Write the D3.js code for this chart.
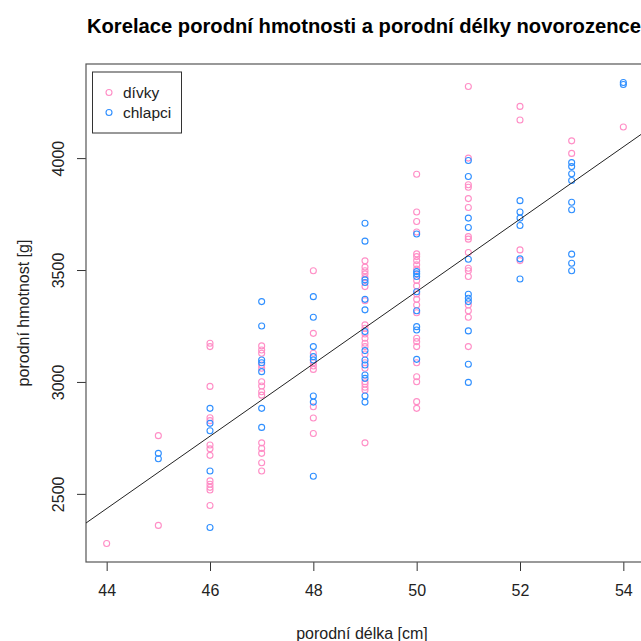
<!DOCTYPE html>
<html>
<head>
<meta charset="utf-8">
<script src="https://cdn.jsdelivr.net/npm/d3@7/dist/d3.min.js"></script>
<style>
  html, body { margin: 0; padding: 0; background: #fff; }
  svg { display: block; font-family: "Liberation Sans", Arial, sans-serif; }
</style>
</head>
<body>
<script>
// Porodní délka [cm] a hmotnost [g] novorozenců – dívky
const divkyDelka = [
  44,
  45, 45,
  46, 46, 46, 46, 46, 46, 46, 46, 46, 46, 46, 46, 46,
  47, 47, 47, 47, 47, 47, 47, 47, 47, 47, 47, 47, 47, 47,
  48, 48, 48, 48, 48, 48, 48, 48, 48,
  49, 49, 49, 49, 49, 49, 49, 49, 49, 49, 49, 49, 49, 49, 49, 49, 49, 49, 49, 49, 49,
  50, 50, 50, 50, 50, 50, 50, 50, 50, 50, 50, 50, 50, 50, 50, 50, 50, 50, 50, 50, 50, 50, 50,
  51, 51, 51, 51, 51, 51, 51, 51, 51, 51, 51, 51, 51, 51, 51, 51,
  52, 52, 52, 52,
  53, 53,
  54
];
const divkyHmotnost = [
  2278,
  2760, 2359,
  3173, 3158, 2980, 2840, 2827, 2718, 2701, 2672, 2558, 2543, 2529, 2517, 2448,
  3161, 3143, 3128, 3076, 3061, 3001, 2982, 2956, 2941, 2728, 2703, 2681, 2639, 2602,
  3497, 3217, 3128, 3086, 3071, 3056, 2889, 2839, 2770,
  3541, 3513, 3497, 3483, 3466, 3426, 3363, 3255, 3240, 3214, 3195, 3173, 3158, 3125, 3086, 3061, 3001, 2991, 2976, 2964, 2728,
  3928, 3759, 3717, 3670, 3572, 3560, 3542, 3523, 3504, 3453, 3429, 3393, 3369, 3344, 3309, 3195, 3180, 3158, 3086, 3023, 3001, 2912, 2882,
  4320, 4000, 3881, 3870, 3819, 3779, 3649, 3638, 3578, 3508, 3497, 3471, 3344, 3318, 3289, 3158,
  4231, 4170, 3590, 3542,
  4077, 4021,
  4139
];

// Porodní délka [cm] a hmotnost [g] novorozenců – chlapci
const chlapciDelka = [
  45, 45,
  46, 46, 46, 46, 46,
  47, 47, 47, 47, 47, 47, 47,
  48, 48, 48, 48, 48, 48, 48, 48,
  49, 49, 49, 49, 49, 49, 49, 49, 49, 49, 49, 49, 49, 49,
  50, 50, 50, 50, 50, 50, 50, 50, 50,
  51, 51, 51, 51, 51, 51, 51, 51, 51, 51, 51,
  52, 52, 52, 52, 52, 52,
  53, 53, 53, 53, 53, 53, 53, 53, 53,
  54, 54
];
const chlapciHmotnost = [
  2681, 2657,
  2882, 2815, 2782, 2602, 2350,
  3359, 3250, 3098, 3086, 3046, 2882, 2797,
  3381, 3289, 3158, 3113, 3098, 2937, 2910, 2579,
  3709, 3629, 3456, 3444, 3369, 3322, 3225, 3140, 3098, 3076, 3031, 3016, 2937, 2910,
  3661, 3493, 3483, 3471, 3403, 3318, 3247, 3232, 3101,
  3989, 3918, 3732, 3690, 3548, 3392, 3374, 3359, 3228, 3079, 2998,
  3810, 3759, 3732, 3699, 3550, 3460,
  3980, 3962, 3930, 3900, 3803, 3769, 3571, 3530, 3497,
  4338, 4329
];

// Regresní přímka hmotnost = a + b * délka
const primkaIntercept = -4676;
const primkaSlope = 161.6;

const xTicks = [44, 46, 48, 50, 52, 54];
const yTicks = [2500, 3000, 3500, 4000];
const legendLabels = ["dívky", "chlapci"];
const colors = { divky: "#ff8ec6", chlapci: "#2f8fff" };

const W = 641, H = 641;
const margin = { left: 86, top: 64 };
const plotW = 558, plotH = 498;

const svg = d3.select("body").append("svg")
  .attr("width", W).attr("height", H);

// osy s 4% rozšířením rozsahu dat
function padded(arr) {
  const [lo, hi] = d3.extent(arr);
  const p = (hi - lo) * 0.04;
  return [lo - p, hi + p];
}
const allX = divkyDelka.concat(chlapciDelka);
const allY = divkyHmotnost.concat(chlapciHmotnost);

const x = d3.scaleLinear().domain(padded(allX)).range([margin.left, margin.left + plotW]);
const y = d3.scaleLinear().domain(padded(allY)).range([margin.top + plotH, margin.top]);

svg.append("defs").append("clipPath").attr("id", "plotClip")
  .append("rect")
  .attr("x", margin.left).attr("y", margin.top)
  .attr("width", plotW).attr("height", plotH);

// Osa x
const xAxis = svg.append("g")
  .attr("transform", `translate(0,${margin.top + plotH})`)
  .call(d3.axisBottom(x).tickValues(xTicks).tickSize(9).tickPadding(14).tickFormat(d3.format("d")));
xAxis.select(".domain").remove();
xAxis.selectAll(".tick line").attr("stroke", "#333");
xAxis.selectAll(".tick text").attr("font-size", 16).attr("fill", "#222")
  .attr("font-family", "Liberation Sans, Arial, sans-serif");

// Osa y (popisky otočené)
const yAxis = svg.append("g")
  .attr("transform", `translate(${margin.left},0)`)
  .call(d3.axisLeft(y).tickValues(yTicks).tickSize(9).tickFormat(d3.format("d")));
yAxis.select(".domain").remove();
yAxis.selectAll(".tick line").attr("stroke", "#333");
yAxis.selectAll(".tick text")
  .attr("font-size", 16).attr("fill", "#222")
  .attr("font-family", "Liberation Sans, Arial, sans-serif")
  .attr("x", null).attr("dy", null)
  .attr("text-anchor", "middle")
  .attr("transform", "translate(-28,0) rotate(-90)")
  .attr("dy", "0.35em");

// Rámeček grafu
svg.append("rect")
  .attr("x", margin.left).attr("y", margin.top)
  .attr("width", plotW).attr("height", plotH)
  .attr("fill", "none").attr("stroke", "#555").attr("stroke-width", 1.2);

// Body
const plot = svg.append("g").attr("clip-path", "url(#plotClip)");

const divky = divkyDelka.map((d, i) => ({ x: d, y: divkyHmotnost[i] }));
const chlapci = chlapciDelka.map((d, i) => ({ x: d, y: chlapciHmotnost[i] }));

plot.append("g").selectAll("circle").data(divky).join("circle")
  .attr("cx", d => x(d.x)).attr("cy", d => y(d.y)).attr("r", 3)
  .attr("fill", "none").attr("stroke", colors.divky).attr("stroke-width", 1.1);

plot.append("g").selectAll("circle").data(chlapci).join("circle")
  .attr("cx", d => x(d.x)).attr("cy", d => y(d.y)).attr("r", 3)
  .attr("fill", "none").attr("stroke", colors.chlapci).attr("stroke-width", 1.1);

// Regresní přímka
const [x0, x1] = x.domain();
plot.append("line")
  .attr("x1", x(x0)).attr("y1", y(primkaIntercept + primkaSlope * x0))
  .attr("x2", x(x1)).attr("y2", y(primkaIntercept + primkaSlope * x1))
  .attr("stroke", "#222").attr("stroke-width", 1);

// Nadpis
svg.append("text")
  .attr("x", margin.left + plotW / 2 - 1).attr("y", 33)
  .attr("text-anchor", "middle")
  .attr("font-size", 20.2).attr("font-weight", "bold").attr("fill", "#000")
  .text("Korelace porodní hmotnosti a porodní délky novorozence");

// Popisky os
svg.append("text")
  .attr("x", margin.left + plotW / 2 - 3).attr("y", 639)
  .attr("text-anchor", "middle").attr("font-size", 16).attr("fill", "#222")
  .text("porodní délka [cm]");

svg.append("text")
  .attr("transform", `translate(29,${margin.top + plotH / 2}) rotate(-90)`)
  .attr("text-anchor", "middle").attr("font-size", 16).attr("fill", "#222")
  .text("porodní hmotnost [g]");

// Legenda
const lg = svg.append("g");
lg.append("rect")
  .attr("x", 92.5).attr("y", 72).attr("width", 89).attr("height", 61)
  .attr("fill", "#fff").attr("stroke", "#333").attr("stroke-width", 1);
const legendColors = [colors.divky, colors.chlapci];
legendLabels.forEach((lab, i) => {
  lg.append("circle")
    .attr("cx", 109).attr("cy", 92.5 + i * 20).attr("r", 3)
    .attr("fill", "none").attr("stroke", legendColors[i]).attr("stroke-width", 1.1);
  lg.append("text")
    .attr("x", 123).attr("y", 92.5 + i * 20).attr("dy", "0.35em")
    .attr("font-size", 15.5).attr("fill", "#222")
    .text(lab);
});
</script>
</body>
</html>
